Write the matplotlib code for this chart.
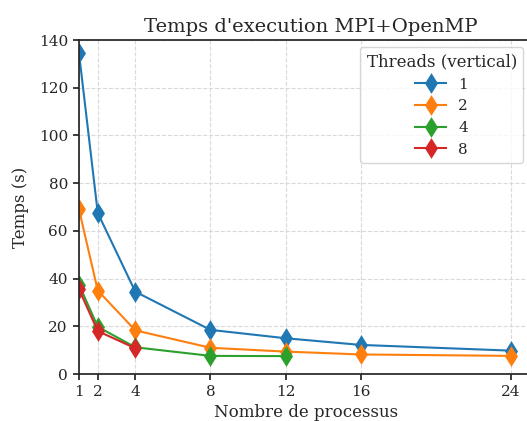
import matplotlib
matplotlib.use("Agg")
import matplotlib.pyplot as plt

plt.rcParams['font.family'] = ['DejaVu Serif']

procs = [1, 2, 4, 8, 12, 16, 24]
t1 = [134.5, 67.5, 34.5, 18.5, 15.0, 12.2, 9.8]
procs2 = [1, 2, 4, 8, 12, 16, 24]
t2 = [69.0, 35.0, 18.3, 11.0, 9.4, 8.2, 7.6]
procs4 = [1, 2, 4, 8, 12]
t4 = [37.5, 19.8, 11.2, 7.6, 7.5]
procs8 = [1, 2, 4]
t8 = [35.5, 18.0, 10.8]
labels = ['1', '2', '4', '8']
xticks = [1, 2, 4, 8, 12, 16, 24]

dark = '#262626'
plt.rcParams.update({
    'axes.edgecolor': dark, 'xtick.color': dark, 'ytick.color': dark,
    'text.color': dark, 'axes.labelcolor': dark, 'axes.linewidth': 1.25,
    'xtick.major.width': 1.25, 'ytick.major.width': 1.25,
    'xtick.major.size': 4.5, 'ytick.major.size': 4.5,
})

fig = plt.figure(figsize=(5.27, 4.21), dpi=100)
W = 460 / 527
ax = fig.add_axes([79 / 527, 0.1116, W, 0.7933])
colors = ['#1f77b4', '#ff7f0e', '#2ca02c', '#d62728']
for xs, ys, lab, c in zip([procs, procs2, procs4, procs8], [t1, t2, t4, t8], labels, colors):
    ax.plot(xs, ys, marker='d', color=c, label=lab, linewidth=1.5,
            markersize=8, markeredgewidth=1.8)

ax.set_xlim(1, 25.5)
ax.set_ylim(0, 140)
ax.set_xticks(xticks)
ax.set_yticks(range(0, 141, 20))
ax.grid(True, linestyle='--', color='#d9d9d9', linewidth=0.8)
ax.set_axisbelow(True)
ax.set_title("Temps d'execution MPI+OpenMP", fontsize=14, x=0.505)
ax.set_xlabel("Nombre de processus", fontsize=12)
ax.set_ylabel("Temps (s)", fontsize=12)
ax.xaxis.set_label_coords(0.493, -0.09)
ax.yaxis.set_label_coords(-0.108, 0.5)
ax.tick_params(labelsize=11)
ax.legend(title="Threads (vertical)", loc='upper right', fontsize=11, title_fontsize=12,
          borderaxespad=0, bbox_to_anchor=(523 / 527, 1 - 47 / 421),
          bbox_transform=fig.transFigure)
fig.savefig("out.png", dpi=100)
